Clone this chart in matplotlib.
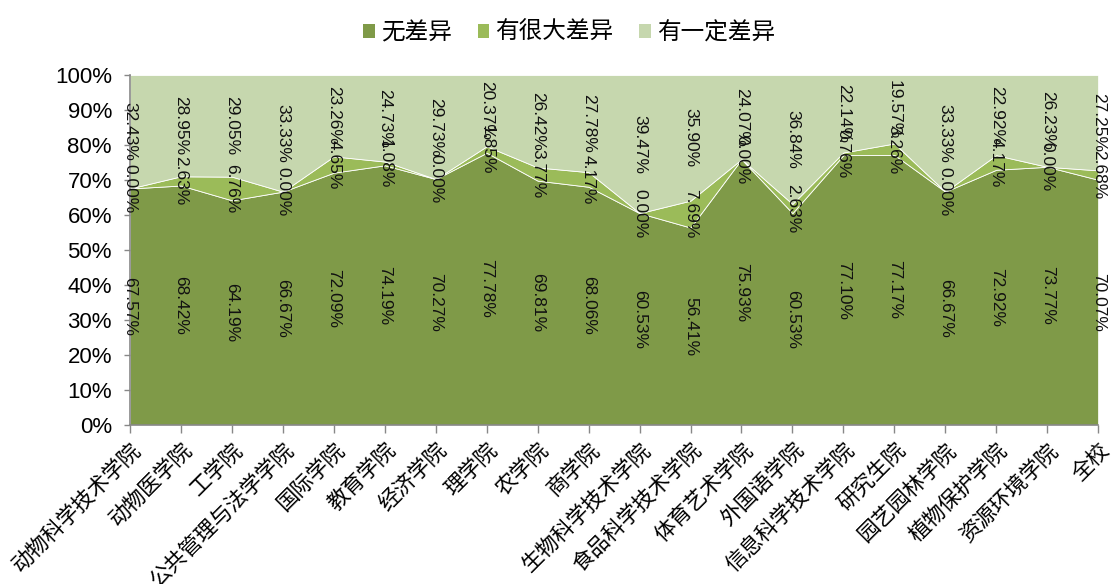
import matplotlib
matplotlib.use('Agg')
import matplotlib.pyplot as plt
import numpy as np
from matplotlib.patches import Patch
from matplotlib.ticker import FuncFormatter

plt.rcParams['font.family'] = ['Noto Sans CJK SC', 'DejaVu Sans']

colleges = ['动物科学技术学院', '动物医学院', '工学院', '公共管理与法学学院', '国际学院',
            '教育学院', '经济学院', '理学院', '农学院', '商学院',
            '生物科学技术学院', '食品科学技术学院', '体育艺术学院', '外国语学院', '信息科学技术学院',
            '研究生院', '园艺园林学院', '植物保护学院', '资源环境学院', '全校']
no_diff = [67.57, 68.42, 64.19, 66.67, 72.09, 74.19, 70.27, 77.78, 69.81, 68.06,
           60.53, 56.41, 75.93, 60.53, 77.10, 77.17, 66.67, 72.92, 73.77, 70.07]
big_diff = [0.00, 2.63, 6.76, 0.00, 4.65, 1.08, 0.00, 1.85, 3.77, 4.17,
            0.00, 7.69, 0.00, 2.63, 0.76, 3.26, 0.00, 4.17, 0.00, 2.68]
some_diff = [32.43, 28.95, 29.05, 33.33, 23.26, 24.73, 29.73, 20.37, 26.42, 27.78,
             39.47, 35.90, 24.07, 36.84, 22.14, 19.57, 33.33, 22.92, 26.23, 27.25]
series_names = ['无差异', '有很大差异', '有一定差异']
colors = ['#7F9A48', '#9BBB59', '#C6D7AE']

fig = plt.figure(figsize=(11.16, 5.84), dpi=100)
ax = fig.add_axes([0.1165, 0.2723, 0.8675, 0.5993])

x = np.arange(len(colleges))
series = [np.array(no_diff), np.array(big_diff), np.array(some_diff)]
ax.stackplot(x, *series, colors=colors, edgecolor='white', linewidth=0.6)

# data labels at segment centres
bottom = np.zeros(len(x))
for vals in series:
    for i, v in enumerate(vals):
        ax.text(x[i], bottom[i] + v / 2, f'{v:.2f}%', rotation=-90,
                ha='center', va='center', fontsize=12.5,
                family=['Liberation Sans', 'DejaVu Sans'], color='#111111')
    bottom = bottom + vals

ax.set_xlim(0, len(x) - 1)
ax.set_ylim(0, 100)
ax.set_yticks(np.arange(0, 101, 10))
ax.yaxis.set_major_formatter(FuncFormatter(lambda v, p: f'{int(v)}%'))
for lab in ax.get_yticklabels():
    lab.set_family(['Liberation Sans', 'DejaVu Sans'])
ax.tick_params(axis='y', labelsize=16, length=4, color='#888888', width=1, pad=9)
ax.set_xticks(x)
ax.set_xticklabels(colleges, rotation=45, ha='right', rotation_mode='anchor', fontsize=15.5)
ax.tick_params(axis='x', length=6, color='#888888', width=1, pad=4)

for s in ['top', 'right']:
    ax.spines[s].set_visible(False)
for s in ['left', 'bottom']:
    ax.spines[s].set_color('#888888')
    ax.spines[s].set_linewidth(1.2)

handles = [Patch(facecolor=c, edgecolor='none') for c in colors]
fig.legend(handles, series_names, loc='upper center', bbox_to_anchor=(0.51, 1.0),
           ncol=3, frameon=False, fontsize=17, handlelength=0.5, handleheight=0.5,
           handletextpad=0.25, columnspacing=1.1)

fig.savefig('out.png', dpi=100)
